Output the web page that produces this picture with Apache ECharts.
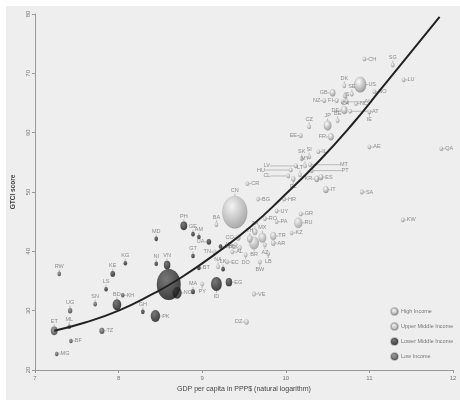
<!DOCTYPE html>
<html><head><meta charset="utf-8">
<script src="https://cdn.jsdelivr.net/npm/echarts@6/dist/echarts.min.js"></script>
<style>html,body{margin:0;padding:0;background:#fff}#c{width:460px;height:405px}</style>
</head><body><div id="c"></div>
<script>
// ---- data ----
const codes = ['ET','MG','BF','UG','RW','TZ','ML','KH','SN','KE','LS','BD','PK','GH','NG','IN','VN','NI','KG','MD','PH','GE','AM','UA','MN','GT','BT','ID','EG','MA','PY','NA','EC','LK','TN','AL','BA','DZ','VE',
 'CN','BR','MX','ZA','TH','CO','TR','AR','PE','DO','JO','LB','BW','AZ','BG','CR','RO','PA','RU','KZ','MY',
 'HR','UY','GR','LV','HU','CL','PL','LT','MT','PT','KR','ES','IT','SA','KW','QA','AE','SK','SI','IL','EE','FR','CZ','JP','BE','DE','AT','IE','AU','NZ','FI','IS','NL','GB','CA','SE','DK','US','NO','CH','SG','LU'];
const lnGdp = [7.23,7.26,7.43,7.42,7.29,7.80,7.41,8.05,7.72,7.93,7.85,7.98,8.44,8.29,8.70,8.60,8.58,8.45,8.08,8.45,8.78,8.89,8.96,9.08,9.22,8.89,8.96,9.17,9.32,8.89,9.00,9.19,9.30,9.25,9.15,9.36,9.17,9.53,9.62,
 9.39,9.62,9.72,9.63,9.57,9.43,9.85,9.85,9.45,9.52,9.40,9.79,9.69,9.75,9.67,9.54,9.75,9.89,10.15,10.07,10.23,
 9.98,9.89,10.18,10.12,10.06,10.03,10.09,10.17,10.29,10.31,10.37,10.42,10.48,10.91,11.40,11.86,11.00,10.19,10.28,10.39,10.18,10.54,10.28,10.50,10.62,10.70,10.77,11.00,10.68,10.46,10.61,10.73,10.84,10.56,10.71,10.79,10.70,10.89,11.06,10.94,11.28,11.41];
const gtci = [26.6,22.7,24.9,30.0,36.2,26.6,27.3,32.6,31.1,36.2,33.6,31.0,29.1,29.8,33.0,34.4,37.7,37.9,38.0,42.1,44.3,42.9,42.4,41.6,40.8,39.2,37.2,34.5,34.8,33.2,34.5,37.4,38.2,37.0,39.9,39.9,44.5,28.1,32.8,
 46.6,41.4,42.3,43.3,42.1,42.3,42.6,41.4,40.6,39.4,41.1,39.6,38.2,41.1,48.8,51.4,45.5,45.0,44.8,43.1,54.4,
 48.8,46.8,46.3,54.4,53.7,52.7,52.2,52.9,54.6,53.6,52.2,52.5,50.4,50.0,45.3,57.3,57.6,55.6,55.9,56.8,59.5,59.3,61.0,61.2,62.0,63.8,63.6,63.5,65.2,65.4,65.4,65.2,64.9,66.7,66.2,66.5,67.9,68.1,66.9,72.4,71.4,68.9];
const population = [99,24,18,40,12,53,17,15,15,46,2,160,190,27,180,1250,92,6,6,3.5,100,4,3,45,3,16,1,255,90,34,7,2.4,16,21,11,3,4,40,31,
 1370,205,125,55,68,48,78,43,31,10,7,6,2,10,7,5,20,4,144,17,30,
 4,3.4,11,2,10,18,38,3,0.4,10,50,46,60,31,4,2,9,5,2,8,1.3,66,10,127,11,81,9,5,24,4.6,5.5,0.3,17,65,36,10,5.7,321,5.2,8.3,5.5,0.6];
const incomeGroup = ['L','L','L','L','L','L','L','L','L','LM','LM','LM','LM','LM','LM','LM','LM','LM','LM','LM','LM','LM','LM','LM','LM','LM','LM','LM','LM','LM','UM','UM','UM','LM','UM','UM','UM','UM','UM',
 'UM','UM','UM','UM','UM','UM','UM','UM','UM','UM','UM','UM','UM','UM','UM','UM','UM','UM','UM','UM','UM',
 'H','H','H','H','H','H','H','H','H','H','H','H','H','H','H','H','H','H','H','H','H','H','H','H','H','H','H','H','H','H','H','H','H','H','H','H','H','H','H','H','H','H'];
const groupNames = {H:'High Income', UM:'Upper Middle Income', LM:'Lower Middle Income', L:'Low Income'};
// fitted curve, points
const curveX = [7.23,7.6,8.0,8.38,8.74,9.22,9.6,9.93,10.41,10.8,11.13,11.5,11.84];
const curveY = [26.6,28.0,30.0,32.6,35.5,40.2,44.4,48.7,55.4,61.5,67.2,73.6,79.5];
const xTicks = [7,8,9,10,11,12];
const yTicks = [20,30,40,50,60,70,80];

// ---- styles ----
const labelSide = {ET:'top',UG:'top',RW:'top',ML:'top',SN:'top',KE:'top',LS:'top',BD:'top',GH:'top',VN:'top',NI:'top',KG:'top',MD:'top',PH:'top',GE:'top',AM:'top',UA:'left',GT:'top',MA:'top',PY:'bottom',NA:'top',LK:'top',TN:'left',BA:'top',DZ:'left',
 CN:'top',BR:'bottom',MX:'top',ZA:'top',TH:'top',CO:'left',PE:'left',DO:'bottom',JO:'left',LB:'bottom',BW:'bottom',AZ:'bottom',MY:'top',LV:'left',HU:'left',CL:'left',PL:'bottom',LT:'top',KR:'left',SK:'top',SI:'top',EE:'left',FR:'left',CZ:'top',JP:'top',BE:'top',DE:'left',IE:'bottom',NZ:'left',FI:'left',IS:'top',GB:'left',CA:'bottom',SE:'top',DK:'top',SG:'top',ID:'bottom'};
const hiddenLabel = {IN:true};
const leader = {LV:-22, HU:-22, CL:-14, MT:26, PT:26, AT:18, AU:18};
function grad(c0,c1){return {type:'radial',x:0.38,y:0.32,r:0.75,colorStops:[{offset:0,color:c0},{offset:1,color:c1}]};}
const colors = {H:grad('#ffffff','#7d7d7d'), UM:grad('#f4f4f4','#8f8f8f'), LM:grad('#5a5a5a','#0c0c0c'), L:grad('#8a8a8a','#2e2e2e')};

const groups = ['H','UM','LM','L'];
const order = ['UM','LM','L','H'];
const series = order.map(g => {
  const data = [];
  codes.forEach((c,i) => {
    if (incomeGroup[i] !== g) return;
    const item = {name:c, value:[lnGdp[i], gtci[i], population[i]]};
    const lab = {position: labelSide[c] || 'right'};
    if (hiddenLabel[c]) lab.show = false;
    if (c === 'CN') lab.offset = [-7, 2];
    if (c === 'ID') lab.offset = [5, -2];
    item.label = lab;
    data.push(item);
  });
  const s = {
    type:'scatter', name:groupNames[g], data,
    symbolSize: v => { const d = Math.max(3.5, 25*Math.sqrt(v[2]/1370)); return [d, d*1.3]; },
    itemStyle:{color:colors[g], borderColor:'rgba(0,0,0,0.25)', borderWidth:0.3},
    label:{show:true, formatter:p=>p.name, fontSize:5.5, color:'#707070', distance:2, fontFamily:'Liberation Sans'},
    labelLine:{show:true, lineStyle:{color:'#888', width:0.5}, length2:0},
    emphasis:{disabled:true}, z:3
  };
  s.labelLayout = function(params){
    const name = data[params.dataIndex].name;
    if (leader[name] !== undefined) return {dx: leader[name], dy: 0};
    return {};
  };
  return s;
});
series.push({
  type:'line', data: curveX.map((x,i)=>[x, curveY[i]]), smooth:true, showSymbol:false,
  lineStyle:{color:'#222', width:2}, z:5, silent:true
});

const chart = echarts.init(document.getElementById('c'), null, {renderer:'canvas'});
chart.setOption({
  animation:false,
  backgroundColor:'#ffffff',
  graphic:[{type:'rect', left:6, top:6, shape:{width:454, height:394}, style:{fill:'#eeeeee'}, z:-10, silent:true}],
  grid:{left:35, right:7, top:14, bottom:35},
  legend:{data:groups.map(g=>groupNames[g]), orient:'vertical', left:385, top:302, itemWidth:7, itemHeight:8, itemGap:6, icon:'circle',
    textStyle:{fontSize:5.5, color:'#777', fontFamily:'Liberation Sans', padding:[0,0,0,-2]}},
  xAxis:{type:'value', min:xTicks[0], max:xTicks[xTicks.length-1], interval:1,
    name:'GDP per capita in PPP$ (natural logarithm)', nameLocation:'middle', nameGap:15,
    nameTextStyle:{fontSize:7, color:'#444', fontFamily:'Liberation Sans'},
    axisLine:{lineStyle:{color:'#999', width:1}}, axisTick:{length:3, lineStyle:{color:'#999'}},
    axisLabel:{fontSize:6, color:'#777', margin:5, fontFamily:'Liberation Sans'}, splitLine:{show:false}},
  yAxis:{type:'value', min:yTicks[0], max:yTicks[yTicks.length-1], interval:10,
    name:'GTCI score', nameLocation:'middle', nameGap:11, nameRotate:90,
    nameTextStyle:{fontSize:6.5, color:'#444', fontWeight:'bold', fontFamily:'Liberation Sans'},
    axisLine:{show:true, lineStyle:{color:'#999', width:1}}, axisTick:{show:true, length:3, lineStyle:{color:'#999'}},
    axisLabel:{fontSize:6, color:'#777', margin:4, rotate:90, fontFamily:'Liberation Sans'}, splitLine:{show:false}},
  series
});
</script></body></html>
